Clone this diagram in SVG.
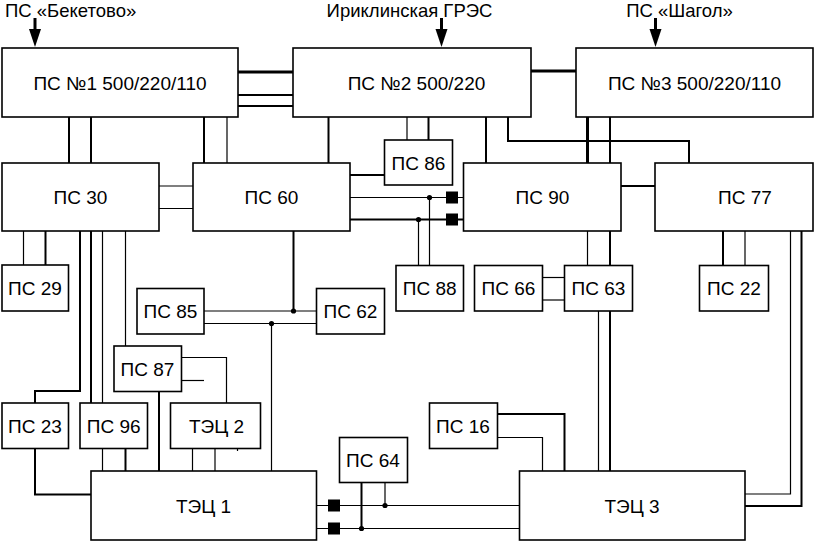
<svg xmlns="http://www.w3.org/2000/svg" width="814" height="541" viewBox="0 0 814 541">
<defs>
<style>
.box{fill:#fff;stroke:#000;stroke-width:1.6}
.t{font-family:"Liberation Sans",Arial,sans-serif;font-size:19px;fill:#000;text-anchor:middle}
.top{font-family:"Liberation Sans",Arial,sans-serif;font-size:18.5px;fill:#000}
.th{fill:none;stroke:#000;stroke-width:1.2}
.md{fill:none;stroke:#000;stroke-width:2}
.tk{fill:none;stroke:#000;stroke-width:3}
.sq{fill:#000}
.dot{fill:#000}
.ah{fill:#000}
</style>
</defs>
<rect width="814" height="541" fill="#fff"/>

<g id="connectors">
<!-- incoming arrows -->
<line class="tk" x1="35" y1="18" x2="35" y2="30"/>
<path class="ah" d="M29 29 L41 29 L35 47 Z"/>
<line class="tk" x1="441.5" y1="18" x2="441.5" y2="30"/>
<path class="ah" d="M435.5 29 L447.5 29 L441.5 47 Z"/>
<line class="tk" x1="655.5" y1="18" x2="655.5" y2="30"/>
<path class="ah" d="M649.5 29 L661.5 29 L655.5 47 Z"/>

<!-- ПС1 - ПС2 -->
<line class="tk" x1="238" y1="72" x2="293" y2="72"/>
<line class="md" x1="238" y1="95" x2="293" y2="95"/>
<line class="md" x1="238" y1="106" x2="293" y2="106"/>
<!-- ПС2 - ПС3 -->
<line class="tk" x1="531" y1="71" x2="576" y2="71"/>
<!-- ПС1 - ПС30 -->
<line class="md" x1="69" y1="117" x2="69" y2="163"/>
<line class="md" x1="91" y1="117" x2="91" y2="163"/>
<!-- ПС1 - ПС60 -->
<line class="md" x1="204" y1="117" x2="204" y2="163"/>
<line class="th" x1="227" y1="117" x2="227" y2="163"/>
<!-- ПС2 - ПС60 -->
<line class="md" x1="328.5" y1="117" x2="328.5" y2="163"/>
<!-- ПС2 - ПС86 -->
<line class="th" x1="407" y1="117" x2="407" y2="140"/>
<line class="md" x1="428.5" y1="117" x2="428.5" y2="140"/>
<!-- ПС2 - ПС90 -->
<line class="md" x1="486" y1="117" x2="486" y2="163"/>
<!-- ПС2 - ПС77 -->
<path class="md" d="M508 117 V141 H689 V163"/>
<!-- ПС3 - ПС90 -->
<line class="tk" x1="587.5" y1="117" x2="587.5" y2="163"/>
<line class="md" x1="610" y1="117" x2="610" y2="163"/>
<!-- ПС30 - ПС60 -->
<line class="th" x1="159" y1="186" x2="193" y2="186"/>
<line class="th" x1="159" y1="208.5" x2="193" y2="208.5"/>
<!-- ПС60 - ПС86 -->
<line class="md" x1="350" y1="175" x2="384.5" y2="175"/>
<!-- ПС60 - ПС90 -->
<line class="th" x1="350" y1="197.5" x2="463.5" y2="197.5"/>
<line class="md" x1="350" y1="219.5" x2="463.5" y2="219.5"/>
<rect class="sq" x="446" y="191.5" width="12" height="12"/>
<rect class="sq" x="446" y="213.5" width="12" height="12"/>
<circle class="dot" cx="429.5" cy="197.5" r="2.6"/>
<circle class="dot" cx="418.5" cy="219.5" r="2.6"/>
<line class="th" x1="429.5" y1="197.5" x2="429.5" y2="265.5"/>
<line class="th" x1="418.5" y1="219.5" x2="418.5" y2="265.5"/>
<!-- ПС90 - ПС77 -->
<line class="md" x1="621" y1="186" x2="655" y2="186"/>
<!-- ПС90 - ПС63 -->
<line class="th" x1="587.5" y1="231" x2="587.5" y2="265.5"/>
<line class="md" x1="610" y1="231" x2="610" y2="265.5"/>
<!-- ПС66 - ПС63 -->
<line class="th" x1="542.5" y1="277.5" x2="564.5" y2="277.5"/>
<line class="th" x1="542.5" y1="300" x2="564.5" y2="300"/>
<!-- ПС63 - ТЭЦ3 -->
<line class="th" x1="598.5" y1="311" x2="598.5" y2="471"/>
<line class="md" x1="610" y1="311" x2="610" y2="471"/>
<!-- ПС77 - ПС22 -->
<line class="md" x1="723" y1="231" x2="723" y2="265.5"/>
<line class="th" x1="745" y1="231" x2="745" y2="265.5"/>
<!-- ПС77 - ТЭЦ3 -->
<path class="th" d="M790.5 231 V494 H745"/>
<path class="md" d="M801.5 231 V506 H745"/>
<!-- ПС16 - ТЭЦ3 -->
<path class="md" d="M497.5 414 H564.5 V471"/>
<path class="th" d="M497.5 437.5 H542.5 V471"/>
<!-- ПС30 - ПС29 -->
<line class="th" x1="23.5" y1="231" x2="23.5" y2="265"/>
<line class="md" x1="45.5" y1="231" x2="45.5" y2="265"/>
<!-- ПС30 - ПС23 -->
<path class="md" d="M80 231 V391 H35 V403"/>
<!-- ПС30 - ПС96 -->
<line class="md" x1="91" y1="231" x2="91" y2="403"/>
<line class="th" x1="102.5" y1="231" x2="102.5" y2="403"/>
<!-- ПС30 - ПС87 -->
<line class="th" x1="125.5" y1="231" x2="125.5" y2="346"/>
<!-- ПС87 - ТЭЦ2 -->
<path class="th" d="M181.5 357.5 H226.5 V403"/>
<line class="th" x1="181.5" y1="380.5" x2="204" y2="380.5"/>
<!-- ПС87 - ТЭЦ1 -->
<line class="md" x1="159" y1="391.5" x2="159" y2="471"/>
<!-- ТЭЦ2 - ТЭЦ1 -->
<line class="th" x1="192.5" y1="448.5" x2="192.5" y2="471"/>
<line class="th" x1="215" y1="448.5" x2="215" y2="471"/>
<line class="th" x1="237.5" y1="448.5" x2="237.5" y2="451"/>
<!-- ПС96 - ТЭЦ1 -->
<line class="th" x1="102.5" y1="448.5" x2="102.5" y2="471"/>
<line class="md" x1="125.5" y1="448.5" x2="125.5" y2="471"/>
<!-- ПС23 - ТЭЦ1 -->
<path class="md" d="M35 448.5 V494.5 H91"/>
<!-- ПС60 - ПС85/ПС62 -->
<line class="md" x1="293.5" y1="231" x2="293.5" y2="311"/>
<line class="th" x1="204" y1="311" x2="316.5" y2="311"/>
<line class="th" x1="204" y1="323.5" x2="316.5" y2="323.5"/>
<circle class="dot" cx="293.5" cy="311" r="2.6"/>
<circle class="dot" cx="271.5" cy="323.5" r="2.6"/>
<line class="th" x1="271.5" y1="323.5" x2="271.5" y2="471"/>
<!-- ТЭЦ1 - ТЭЦ3 -->
<line class="th" x1="316.5" y1="505.5" x2="519.5" y2="505.5"/>
<line class="th" x1="316.5" y1="528.5" x2="519.5" y2="528.5"/>
<rect class="sq" x="328" y="499.5" width="12" height="12"/>
<rect class="sq" x="328" y="522.5" width="12" height="12"/>
<!-- ПС64 -->
<line class="md" x1="361.5" y1="482.5" x2="361.5" y2="528.5"/>
<line class="th" x1="385" y1="482.5" x2="385" y2="505.5"/>
<circle class="dot" cx="361.5" cy="528.5" r="2.6"/>
<circle class="dot" cx="385" cy="505.5" r="2.6"/>
</g>

<g id="sources">
<text class="top" x="5" y="17">ПС «Бекетово»</text>
<text class="top" x="409.5" y="17" text-anchor="middle">Ириклинская ГРЭС</text>
<text class="top" x="679.5" y="17" text-anchor="middle">ПС «Шагол»</text>
</g>

<g id="ps1"><rect class="box" x="2" y="48" width="236" height="69"/><text class="t" x="120" y="89.5">ПС №1 500/220/110</text></g>
<g id="ps2"><rect class="box" x="293" y="48" width="238" height="69"/><text class="t" x="416.5" y="89.5">ПС №2 500/220</text></g>
<g id="ps3"><rect class="box" x="576" y="48" width="237" height="69"/><text class="t" x="694.5" y="89.5">ПС №3 500/220/110</text></g>
<g id="ps30"><rect class="box" x="2" y="163" width="157" height="68"/><text class="t" x="80.5" y="203.5">ПС 30</text></g>
<g id="ps60"><rect class="box" x="193" y="163" width="157" height="68"/><text class="t" x="271.5" y="203.5">ПС 60</text></g>
<g id="ps86"><rect class="box" x="384.5" y="140" width="68" height="45"/><text class="t" x="418.5" y="169.5">ПС 86</text></g>
<g id="ps90"><rect class="box" x="463.5" y="163" width="157.5" height="68"/><text class="t" x="542.5" y="203.5">ПС 90</text></g>
<g id="ps77"><rect class="box" x="655" y="163" width="158" height="68"/><text class="t" x="745" y="203.5">ПС 77</text></g>
<g id="ps29"><rect class="box" x="2" y="265" width="66.5" height="46"/><text class="t" x="35" y="295">ПС 29</text></g>
<g id="ps88"><rect class="box" x="396" y="265.5" width="67.5" height="45.5"/><text class="t" x="429.7" y="295">ПС 88</text></g>
<g id="ps66"><rect class="box" x="474.5" y="265.5" width="68" height="45.5"/><text class="t" x="508.5" y="295">ПС 66</text></g>
<g id="ps63"><rect class="box" x="564.5" y="265.5" width="68" height="45.5"/><text class="t" x="598.5" y="295">ПС 63</text></g>
<g id="ps22"><rect class="box" x="699.5" y="265.5" width="69" height="45.5"/><text class="t" x="734" y="295">ПС 22</text></g>
<g id="ps85"><rect class="box" x="137" y="288.5" width="67" height="45.5"/><text class="t" x="170.5" y="318">ПС 85</text></g>
<g id="ps62"><rect class="box" x="316.5" y="288.5" width="68" height="45.5"/><text class="t" x="350.5" y="318">ПС 62</text></g>
<g id="ps87"><rect class="box" x="114" y="346" width="67.5" height="45.5"/><text class="t" x="147.5" y="375.5">ПС 87</text></g>
<g id="ps23"><rect class="box" x="2" y="403" width="66.5" height="45.5"/><text class="t" x="35" y="432.5">ПС 23</text></g>
<g id="ps96"><rect class="box" x="80" y="403" width="67.5" height="45.5"/><text class="t" x="113.7" y="432.5">ПС 96</text></g>
<g id="tec2"><rect class="box" x="170.5" y="403" width="90" height="45.5"/><text class="t" x="216.5" y="432.5">ТЭЦ 2</text></g>
<g id="ps16"><rect class="box" x="429.5" y="403" width="68" height="45.5"/><text class="t" x="463" y="432.5">ПС 16</text></g>
<g id="ps64"><rect class="box" x="339.5" y="437.5" width="68" height="45"/><text class="t" x="373" y="467">ПС 64</text></g>
<g id="tec1"><rect class="box" x="91" y="471" width="225.5" height="69"/><text class="t" x="203.5" y="512.5">ТЭЦ 1</text></g>
<g id="tec3"><rect class="box" x="519.5" y="471" width="225.5" height="69"/><text class="t" x="632" y="512.5">ТЭЦ 3</text></g>
</svg>
